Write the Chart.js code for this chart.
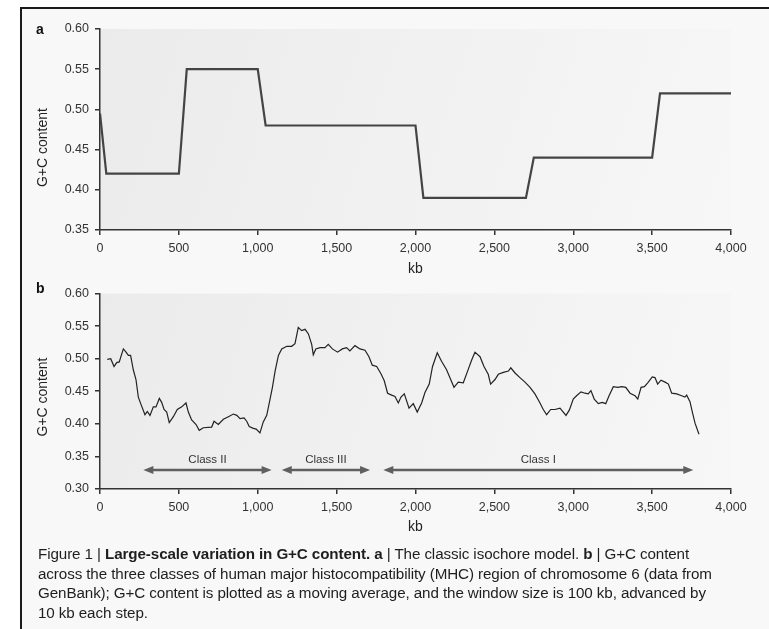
<!DOCTYPE html>
<html>
<head>
<meta charset="utf-8">
<script src="https://cdn.jsdelivr.net/npm/chart.js@4.4.1/dist/chart.umd.min.js"></script>
<style>
  html, body { margin: 0; padding: 0; background: #fff; }
  body { width: 769px; height: 629px; position: relative; overflow: hidden;
         font-family: "Liberation Sans", Arial, sans-serif; }
  #frame { position: absolute; left: 20px; top: 7px; width: 749px; height: 622px;
           background: #f8f8f8; border-left: 2px solid #1a1a1a; border-top: 2px solid #1a1a1a;
           box-sizing: border-box; }
  canvas { position: absolute; left: 0; }
  #cA { top: 0; }
  #cB { top: 280px; }
  .panel { position: absolute; left: 36px; font-weight: bold; font-size: 14px; color: #111; line-height: 16px; }
  #caption { position: absolute; left: 38px; top: 544px; white-space: nowrap; color: #1e1e1e;
             font-family: "Liberation Sans", Arial, sans-serif;
             font-size: 15.2px; line-height: 19.6px; letter-spacing: -0.1px; }
</style>
</head>
<body>
<div id="frame"></div>
<canvas id="cA" width="769" height="280"></canvas>
<canvas id="cB" width="769" height="265"></canvas>
<div class="panel" style="top:21px">a</div>
<div class="panel" style="top:280px">b</div>
<div id="caption">Figure 1 | <b>Large-scale variation in G+C content. a</b> | The classic isochore model. <b>b</b> | G+C content<br>across the three classes of human major histocompatibility (MHC) region of chromosome 6 (data from<br>GenBank); G+C content is plotted as a moving average, and the window size is 100 kb, advanced by<br>10 kb each step.</div>
<script>
// Panel a: classic isochore model (kb position, G+C fraction)
const isochoreKb = [0, 40, 500, 550, 1000, 1050, 2000, 2050, 2700, 2750, 3500, 3550, 4000];
const isochoreGC = [0.495, 0.42, 0.42, 0.55, 0.55, 0.48, 0.48, 0.39, 0.39, 0.44, 0.44, 0.52, 0.52];

// Panel b: MHC moving-average G+C content
const mhcKb = [46, 68, 89, 106, 122, 148, 165, 180, 194, 211, 228, 243, 258, 285, 300, 317, 338, 355, 376, 391,
  406, 423, 439, 465, 490, 518, 545, 560, 581, 609, 629, 655, 708, 723, 750, 782, 814, 845, 867, 888,
  913, 930, 946, 972, 990, 1014, 1035, 1057, 1078, 1093, 1110, 1131, 1152, 1184, 1215, 1236, 1257, 1278, 1300, 1321,
  1342, 1352, 1368, 1395, 1426, 1447, 1473, 1506, 1536, 1563, 1584, 1616, 1648, 1680, 1705, 1726, 1754, 1781, 1802, 1823,
  1849, 1870, 1891, 1908, 1929, 1959, 1986, 2011, 2039, 2060, 2087, 2108, 2138, 2165, 2197, 2223, 2244, 2271, 2303, 2335,
  2356, 2377, 2409, 2434, 2461, 2476, 2504, 2525, 2557, 2589, 2604, 2631, 2662, 2694, 2726, 2757, 2785, 2810, 2831, 2857,
  2884, 2916, 2954, 2975, 3000, 3021, 3049, 3074, 3095, 3112, 3133, 3159, 3184, 3206, 3227, 3254, 3282, 3307, 3333, 3360,
  3392, 3409, 3430, 3451, 3472, 3501, 3518, 3535, 3556, 3582, 3603, 3624, 3656, 3687, 3708, 3719, 3740, 3755, 3772, 3797];
const mhcGC = [0.499, 0.500, 0.488, 0.494, 0.495, 0.515, 0.510, 0.505, 0.505, 0.483, 0.468, 0.441, 0.431, 0.414, 0.419, 0.413, 0.426, 0.426, 0.439, 0.433,
  0.422, 0.418, 0.402, 0.411, 0.422, 0.426, 0.432, 0.418, 0.406, 0.399, 0.390, 0.394, 0.395, 0.404, 0.399, 0.407, 0.411, 0.415, 0.413, 0.408,
  0.409, 0.404, 0.396, 0.393, 0.392, 0.386, 0.403, 0.413, 0.438, 0.456, 0.481, 0.505, 0.515, 0.519, 0.519, 0.523, 0.548, 0.543, 0.545, 0.538,
  0.522, 0.506, 0.515, 0.517, 0.517, 0.522, 0.515, 0.510, 0.515, 0.517, 0.512, 0.520, 0.515, 0.513, 0.503, 0.490, 0.488, 0.477, 0.466, 0.447,
  0.444, 0.442, 0.432, 0.441, 0.446, 0.424, 0.431, 0.418, 0.432, 0.448, 0.461, 0.488, 0.509, 0.496, 0.483, 0.468, 0.456, 0.464, 0.463, 0.484,
  0.498, 0.510, 0.503, 0.488, 0.476, 0.461, 0.468, 0.476, 0.479, 0.481, 0.486, 0.478, 0.471, 0.464, 0.456, 0.446, 0.434, 0.422, 0.414, 0.422,
  0.422, 0.424, 0.413, 0.421, 0.438, 0.443, 0.449, 0.447, 0.446, 0.451, 0.438, 0.431, 0.433, 0.431, 0.443, 0.457, 0.456, 0.457, 0.456, 0.447,
  0.443, 0.438, 0.456, 0.457, 0.463, 0.472, 0.471, 0.461, 0.467, 0.464, 0.461, 0.447, 0.446, 0.443, 0.441, 0.444, 0.434, 0.418, 0.401, 0.384];

// MHC class regions shown as double-headed arrows
const mhcClasses = ['Class II', 'Class III', 'Class I'];
const classStartKb = [275, 1152, 1796];
const classEndKb = [1088, 1712, 3761];
const classArrowGC = 0.329;
const classLabelGC = 0.345;

// Axis ticks
const kbTicks = [0, 500, 1000, 1500, 2000, 2500, 3000, 3500, 4000];
const gcTicksA = [0.35, 0.40, 0.45, 0.50, 0.55, 0.60];
const gcTicksB = [0.30, 0.35, 0.40, 0.45, 0.50, 0.55, 0.60];

Chart.defaults.font.family = '"Liberation Sans", Arial, sans-serif';
Chart.defaults.color = '#333';

const toPoints = (xs, ys) => xs.map((x, i) => ({ x: x, y: ys[i] }));

// Light shading behind the plotting area
const plotShade = {
  id: 'plotShade',
  beforeDraw(chart) {
    const { ctx, chartArea: a } = chart;
    const g = ctx.createLinearGradient(a.left, a.top, a.right, a.bottom);
    g.addColorStop(0, '#ebebeb');
    g.addColorStop(1, '#f7f7f7');
    ctx.save();
    ctx.fillStyle = g;
    ctx.fillRect(a.left, a.top, a.width, a.height);
    ctx.restore();
  }
};

// Rotated y-axis caption placed at a chosen height
const sideTitle = {
  id: 'sideTitle',
  afterDraw(chart, args, opts) {
    if (!opts || !opts.text) return;
    const { ctx, chartArea: a } = chart;
    ctx.save();
    ctx.translate(opts.x, a.top + a.height * opts.frac);
    ctx.rotate(-Math.PI / 2);
    ctx.font = opts.font;
    ctx.fillStyle = opts.color;
    ctx.textAlign = 'center';
    ctx.textBaseline = 'middle';
    ctx.fillText(opts.text, 0, 0);
    ctx.restore();
  }
};

// Double-headed arrows marking the MHC classes
const classArrows = {
  id: 'classArrows',
  afterDatasetsDraw(chart, args, opts) {
    if (!opts || !opts.enabled) return;
    const { ctx, scales: { x, y } } = chart;
    const ay = y.getPixelForValue(classArrowGC);
    const ly = y.getPixelForValue(classLabelGC);
    const head = 10, half = 4;
    ctx.save();
    ctx.strokeStyle = '#5f5f5f';
    ctx.fillStyle = '#5f5f5f';
    ctx.lineWidth = 2.5;
    mhcClasses.forEach((name, i) => {
      const x1 = x.getPixelForValue(classStartKb[i]);
      const x2 = x.getPixelForValue(classEndKb[i]);
      ctx.beginPath();
      ctx.moveTo(x1 + head - 1, ay);
      ctx.lineTo(x2 - head + 1, ay);
      ctx.stroke();
      ctx.beginPath();
      ctx.moveTo(x1, ay); ctx.lineTo(x1 + head, ay - half); ctx.lineTo(x1 + head, ay + half); ctx.closePath();
      ctx.fill();
      ctx.beginPath();
      ctx.moveTo(x2, ay); ctx.lineTo(x2 - head, ay - half); ctx.lineTo(x2 - head, ay + half); ctx.closePath();
      ctx.fill();
      ctx.font = '11.5px "Liberation Sans", Arial, sans-serif';
      ctx.fillStyle = '#333';
      ctx.textAlign = 'center';
      ctx.textBaseline = 'middle';
      ctx.fillText(name, (x1 + x2) / 2, ly);
      ctx.fillStyle = '#5f5f5f';
    });
    ctx.restore();
  }
};

function makeChart(id, points, yTicks, cfg) {
  return new Chart(document.getElementById(id), {
    type: 'line',
    data: {
      datasets: [{
        data: points,
        borderColor: cfg.lineColor,
        borderWidth: cfg.lineWidth,
        pointRadius: 0,
        tension: 0,
        fill: false
      }]
    },
    options: {
      responsive: false,
      animation: false,
      layout: { padding: { top: cfg.padTop, right: 38, left: 0, bottom: 0 } },
      plugins: {
        legend: { display: false },
        tooltip: { enabled: false },
        sideTitle: { text: 'G+C content', x: 43, frac: cfg.titleFrac, font: '14px "Liberation Sans", Arial, sans-serif', color: '#222' },
        classArrows: { enabled: !!cfg.arrows }
      },
      scales: {
        x: {
          type: 'linear',
          min: kbTicks[0],
          max: kbTicks[kbTicks.length - 1],
          afterBuildTicks: s => { s.ticks = kbTicks.map(v => ({ value: v })); },
          afterFit: s => { s.height = cfg.xHeight; },
          ticks: {
            font: { size: 12.5 }, color: '#333', padding: 6, maxRotation: 0, autoSkip: false,
            callback: v => v.toLocaleString('en-US')
          },
          grid: { drawOnChartArea: false, drawTicks: true, tickLength: 5, color: '#333', lineWidth: 1.5 },
          border: { display: true, color: '#333', width: 1.5 },
          title: { display: true, text: 'kb', font: { size: 14 }, color: '#222', padding: { top: 0, bottom: cfg.kbPad } }
        },
        y: {
          type: 'linear',
          min: yTicks[0],
          max: yTicks[yTicks.length - 1],
          afterBuildTicks: s => { s.ticks = yTicks.map(v => ({ value: v })); },
          afterFit: s => { s.width = 100; },
          ticks: {
            font: { size: 12.5 }, color: '#333', padding: 6, autoSkip: false,
            callback: v => Number(v).toFixed(2)
          },
          grid: { drawOnChartArea: false, drawTicks: true, tickLength: 5, color: '#333', lineWidth: 1.5 },
          border: { display: true, color: '#333', width: 1.5 }
        }
      }
    },
    plugins: [plotShade, sideTitle, classArrows]
  });
}

makeChart('cA', toPoints(isochoreKb, isochoreGC), gcTicksA, {
  lineColor: '#444', lineWidth: 2.2, padTop: 29, xHeight: 50, kbPad: 2, titleFrac: 0.59
});
makeChart('cB', toPoints(mhcKb, mhcGC), gcTicksB, {
  lineColor: '#222', lineWidth: 1.2, padTop: 8, xHeight: 56, kbPad: 9, titleFrac: 0.53, arrows: true
});
</script>
</body>
</html>
